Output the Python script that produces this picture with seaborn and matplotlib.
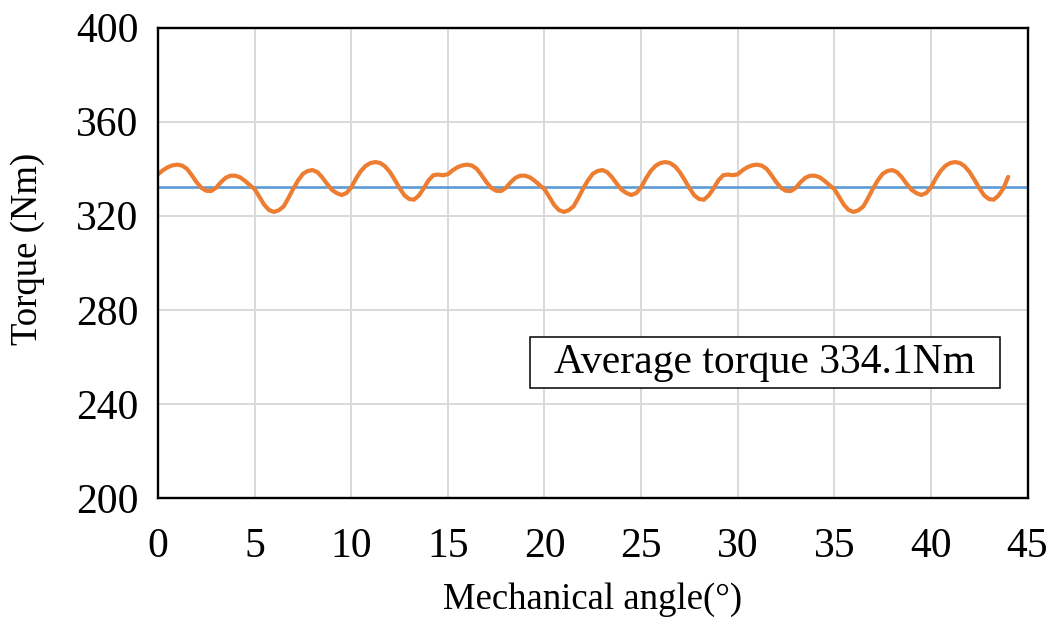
import numpy as np
import pandas as pd
import matplotlib
matplotlib.use("Agg")
import matplotlib.pyplot as plt
from matplotlib.patches import Rectangle
import seaborn as sns

# ---- data ----
angle = [i * 0.25 for i in range(177)]  # 0 .. 44 deg, 0.25 deg steps
torque_0_15 = [
    337.6, 339.3, 340.6, 341.4, 341.7, 341.3, 339.9, 337.2, 334.2, 331.8,
    330.6, 330.5, 331.8, 334.2, 336.1, 337.0, 337.0, 336.3, 334.8, 333.0,
    331.3, 328.0, 324.6, 322.4, 321.6, 322.3, 323.9, 327.5, 331.5, 335.0,
    337.8, 339.0, 339.4, 338.5, 336.3, 333.5, 331.0, 329.6, 328.8, 329.6,
    332.0, 335.8, 339.0, 341.2, 342.4, 342.8, 342.4, 341.0, 338.6, 335.3,
    331.8, 328.7, 327.1, 326.8, 328.6, 331.6, 335.0, 337.2, 337.5, 337.2]
torque_15_30 = [
    337.6, 339.3, 340.6, 341.4, 341.7, 341.3, 339.9, 337.2, 334.2, 331.8,
    330.6, 330.5, 331.8, 334.2, 336.1, 337.0, 337.0, 336.3, 334.8, 333.0,
    331.3, 328.0, 324.6, 322.4, 321.6, 322.3, 323.9, 327.5, 331.5, 335.0,
    337.8, 339.0, 339.4, 338.5, 336.3, 333.5, 331.0, 329.6, 328.8, 329.6,
    332.0, 335.8, 339.0, 341.2, 342.4, 342.8, 342.4, 341.0, 338.6, 335.3,
    331.8, 328.7, 327.1, 326.8, 328.6, 331.6, 335.0, 337.2, 337.5, 337.2]
torque_30_44 = [
    337.6, 339.3, 340.6, 341.4, 341.7, 341.3, 339.9, 337.2, 334.2, 331.8,
    330.6, 330.5, 331.8, 334.2, 336.1, 337.0, 337.0, 336.3, 334.8, 333.0,
    331.3, 328.0, 324.6, 322.4, 321.6, 322.3, 323.9, 327.5, 331.5, 335.0,
    337.8, 339.0, 339.4, 338.5, 336.3, 333.5, 331.0, 329.6, 328.8, 329.6,
    332.0, 335.8, 339.0, 341.2, 342.4, 342.8, 342.4, 341.0, 338.6, 335.3,
    331.8, 328.7, 327.1, 326.8, 328.6, 331.6, 336.5]
torque = torque_0_15 + torque_15_30 + torque_30_44
avg_x = [0, 45]
avg_y = [332.0, 332.0]
x_ticks = [0, 5, 10, 15, 20, 25, 30, 35, 40, 45]
y_ticks = [200, 240, 280, 320, 360, 400]
label_text = "Average torque 334.1Nm"
x_title = "Mechanical angle(°)"
y_title = "Torque (Nm)"

sns.set_theme(style="white")
plt.rcParams['font.family'] = ['Liberation Serif', 'DejaVu Serif']

fig = plt.figure(figsize=(10.49, 6.17), dpi=100)
ax = fig.add_axes([158/1049, 1 - 498/617, (1027.5-158)/1049, (498-27.5)/617])

df = pd.DataFrame({"angle": angle, "torque": torque})
df_avg = pd.DataFrame({"angle": avg_x, "torque": avg_y})
sns.lineplot(data=df_avg, x="angle", y="torque", ax=ax, color="#5B9BD5", linewidth=1.9)
sns.lineplot(data=df, x="angle", y="torque", ax=ax, color="#ED7D31", linewidth=3.0)

ax.set_xlim(0, 45)
ax.set_ylim(200, 400)
ax.set_xticks(x_ticks)
ax.set_yticks(y_ticks)
ax.grid(True, color="#D9D9D9", linewidth=1.4)
ax.set_axisbelow(True)
for s in ax.spines.values():
    s.set_visible(True)
    s.set_color("black")
    s.set_linewidth(1.7)
ax.tick_params(direction="in", length=7, width=1.6, colors="black", labelsize=30)
ax.tick_params(axis="y", pad=14)
ax.tick_params(axis="x", pad=21)
ax.set_xlabel(x_title, fontsize=26.5, color="black")
ax.set_ylabel(y_title, fontsize=26.5, color="black")
ax.xaxis.set_label_coords(0.5, -0.18)
ax.yaxis.set_label_coords(-0.13, 0.53)

ax.add_patch(Rectangle((0.4276, 0.2335), 0.5402, 0.1083, transform=ax.transAxes,
                       facecolor="white", edgecolor="black", linewidth=1.1, zorder=5))
ax.text(0.6977, 0.288, label_text, transform=ax.transAxes, fontsize=30,
        ha="center", va="center", color="black", zorder=6)

fig.savefig("out.png", dpi=100)
